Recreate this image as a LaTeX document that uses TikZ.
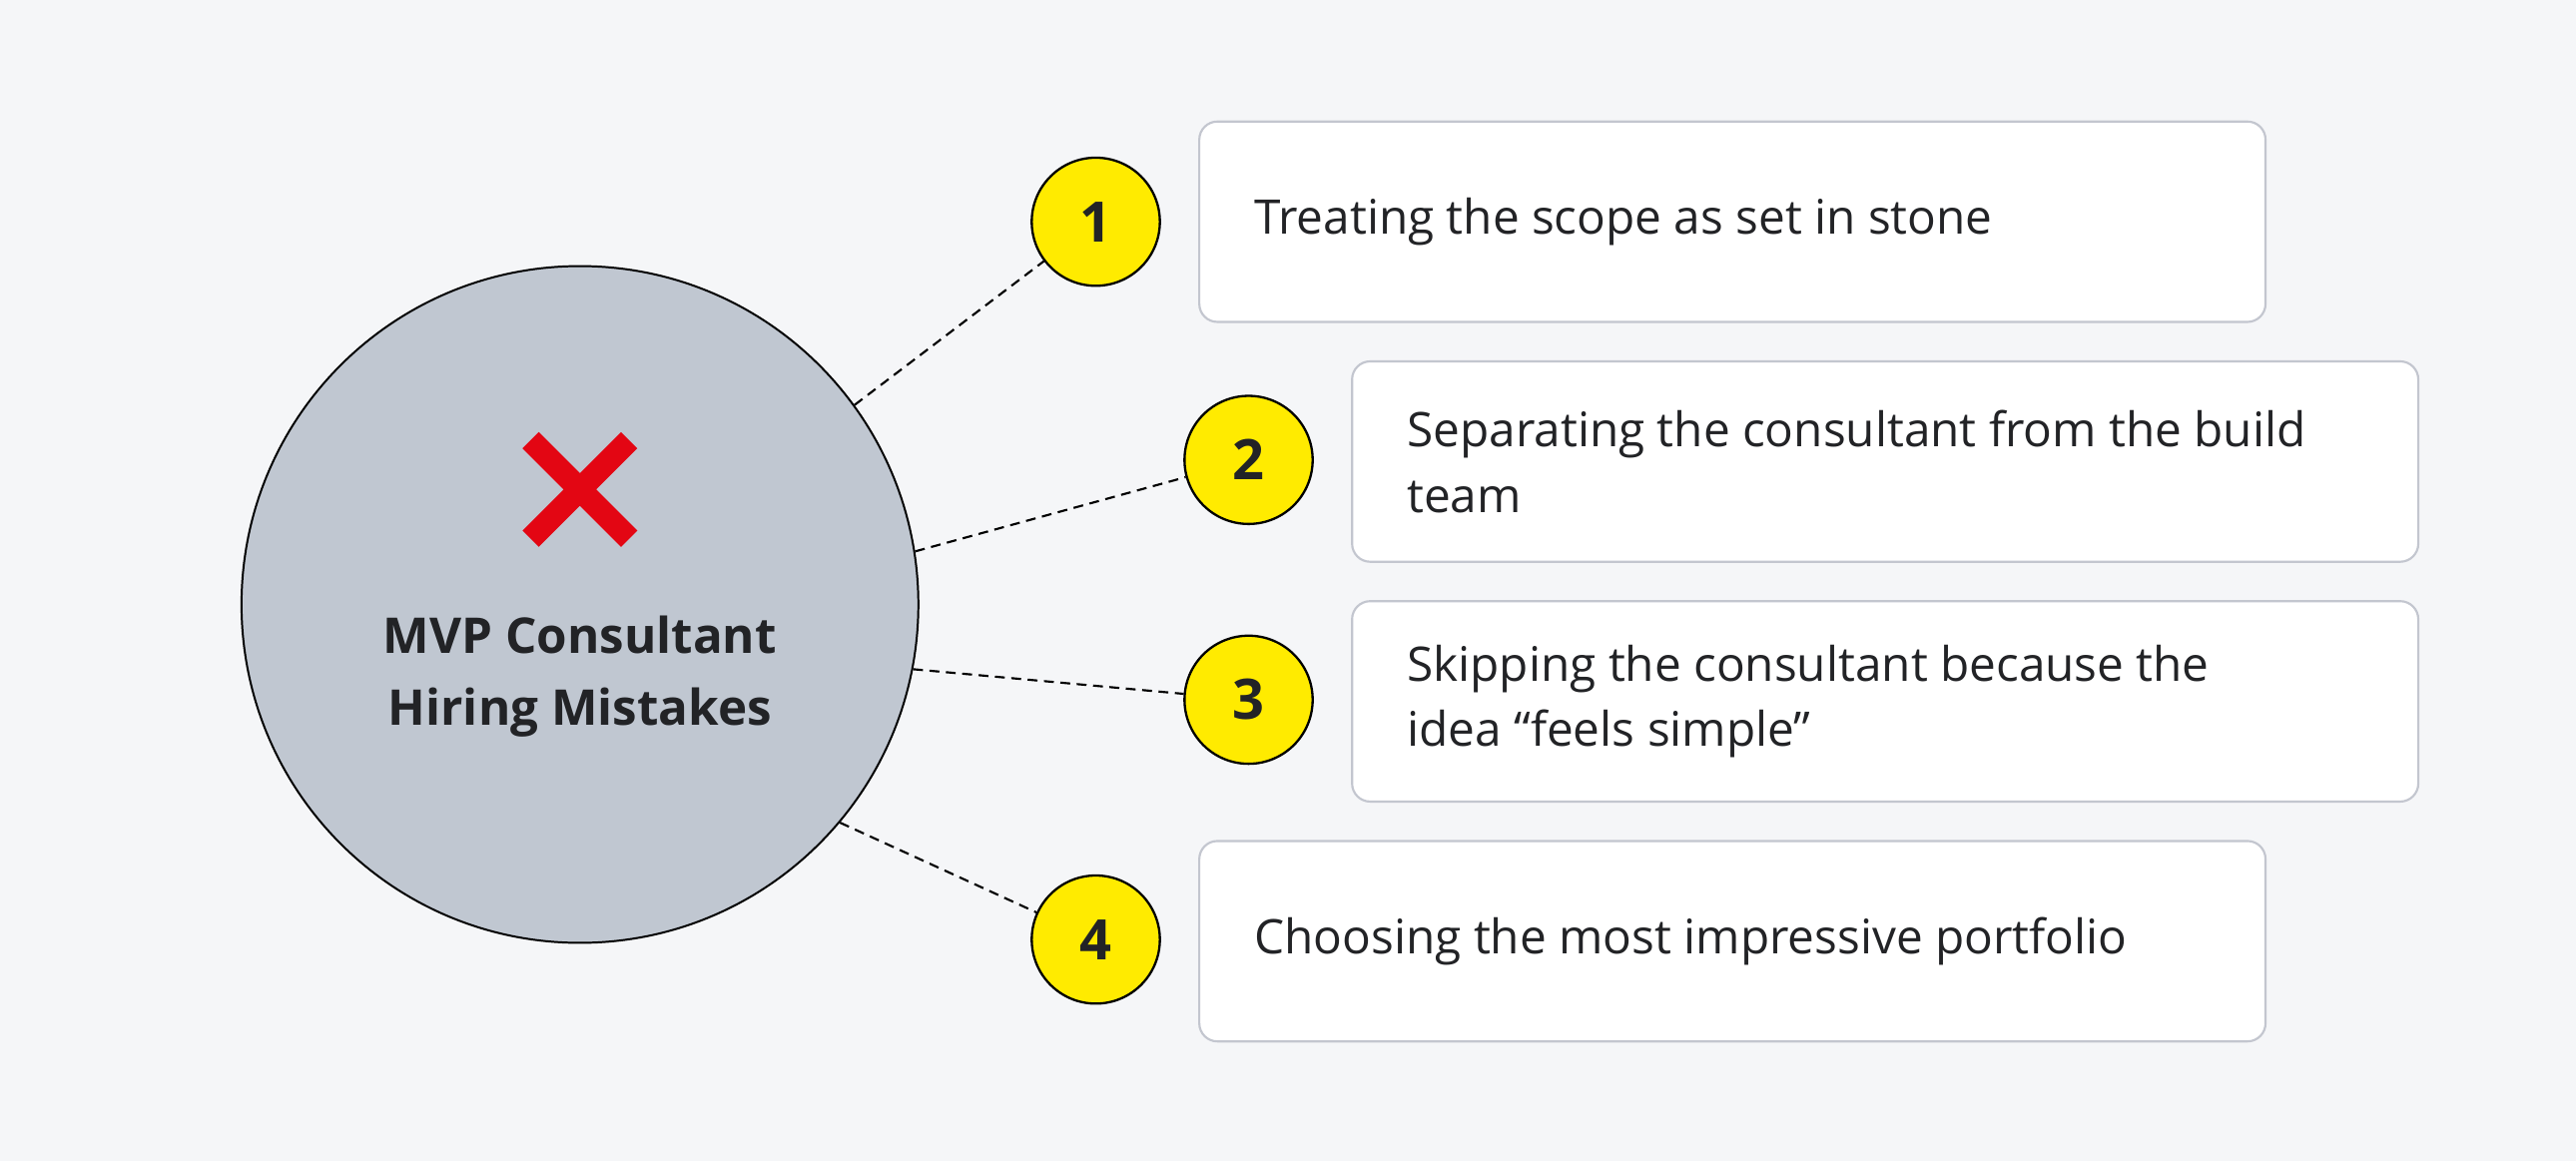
\documentclass[tikz,border=0pt]{standalone}
\usepackage{fontspec}
\setmainfont{Open Sans}
\usetikzlibrary{positioning}
\definecolor{bgcol}{HTML}{F5F6F8}
\definecolor{hubcol}{HTML}{C0C7D1}
\definecolor{markcol}{HTML}{FFEB00}
\definecolor{boxline}{HTML}{C3C6CF}
\definecolor{crosscol}{HTML}{E30613}
\definecolor{inkcol}{HTML}{222326}
\begin{document}
\begin{tikzpicture}
[x=1pt,y=1pt,%
  hub/.style={shape=circle,draw,line width=1.2pt,fill=hubcol,minimum size=412pt,inner sep=0pt},%
  badge/.style={shape=circle,draw,line width=1.4pt,fill=markcol,minimum size=78pt,inner sep=0pt,font=\fontsize{34}{40}\selectfont\bfseries,text=inkcol},%
  card/.style={draw=boxline,line width=1.3pt,fill=white,rounded corners=11pt,minimum width=649pt,minimum height=122pt},%
  cardtext/.style={anchor=west,align=left,font=\fontsize{29}{40}\selectfont,text=inkcol},%
  link/.style={line width=1.3pt,dash pattern=on 6pt off 4pt}]
\fill[bgcol] (0,0) rectangle (1568,707);
\useasboundingbox (0,0) rectangle (1568,707);
% hub
\node[hub] (hub) at (353,339) {};
\draw[crosscol,line width=14pt] (323,439) -- (383,379) (323,379) -- (383,439);
\node[align=center,font=\fontsize{30}{44}\selectfont\bfseries,text=inkcol] (title) at (353,295) {MVP Consultant\\Hiring Mistakes};
% cards
\node[card] (c1) at (1054.5,572) {};
\node[card] (c2) at (1147.5,426) {};
\node[card] (c3) at (1147.5,280) {};
\node[card] (c4) at (1054.5,134) {};
\node[cardtext] (t1) at (760,572) {Treating the scope as set in stone};
\node[cardtext] (t2) at (853,426) {Separating the consultant from the build\\team};
\node[cardtext] (t3) at (853,280) {Skipping the consultant because the\\idea “feels simple”};
\node[cardtext] (t4) at (760,134) {Choosing the most impressive portfolio};
% markers
\node[badge] (m1) at (667,572) {1};
\node[badge] (m2) at (760,427) {2};
\node[badge] (m3) at (760,281) {3};
\node[badge] (m4) at (667,135) {4};
\draw[link] (hub.36) -- (m1);
\draw[link] (hub.9) -- (m2);
\draw[link] (hub.-11) -- (m3);
\draw[link] (hub.-40) -- (m4);
\end{tikzpicture}
\end{document}
